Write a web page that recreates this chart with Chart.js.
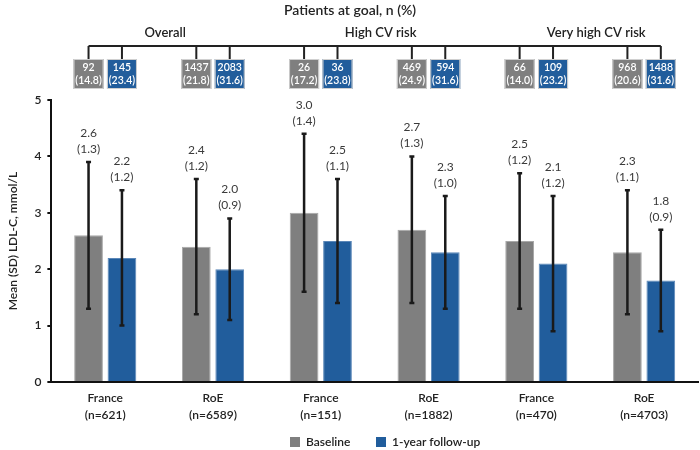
<!DOCTYPE html>
<html>
<head>
<meta charset="utf-8">
<script src="https://cdn.jsdelivr.net/npm/chart.js@4/dist/chart.umd.min.js"></script>
<style>
  html, body { margin: 0; padding: 0; background: #fff; }
</style>
</head>
<body>
<canvas id="chart" width="700" height="450"></canvas>
<script>
// ------------------------
// Data
// ------------------------
const categories = [
  ['France', '(n=621)'],
  ['RoE', '(n=6589)'],
  ['France', '(n=151)'],
  ['RoE', '(n=1882)'],
  ['France', '(n=470)'],
  ['RoE', '(n=4703)'],
]
const groups = ['Overall', 'High CV risk', 'Very high CV risk']

const baselineMean = [2.6, 2.4, 3.0, 2.7, 2.5, 2.3]
const baselineSD = [1.3, 1.2, 1.4, 1.3, 1.2, 1.1]
const followUpMean = [2.2, 2.0, 2.5, 2.3, 2.1, 1.8]
const followUpSD = [1.2, 0.9, 1.1, 1.0, 1.2, 0.9]

const goalBaselineN = [92, 1437, 26, 469, 66, 968]
const goalBaselinePct = ['14.8', '21.8', '17.2', '24.9', '14.0', '20.6']
const goalFollowUpN = [145, 2083, 36, 594, 109, 1488]
const goalFollowUpPct = ['23.4', '31.6', '23.8', '31.6', '23.2', '31.6']

const yTicks = [0, 1, 2, 3, 4, 5]

const GREY = '#7f7f7f'
const BLUE = '#215d9c'
const FONT = 'Lato, "Open Sans", sans-serif'

const sds = [baselineSD, followUpSD]
const goals = [
  [goalBaselineN, goalBaselinePct],
  [goalFollowUpN, goalFollowUpPct],
]

// ------------------------
// Plugins
// ------------------------
const errorBars = {
  id: 'errorBars',
  afterDatasetsDraw(chart) {
    const { ctx } = chart
    const y = chart.scales.y
    chart.data.datasets.forEach((ds, i) => {
      chart.getDatasetMeta(i).data.forEach((bar, j) => {
        const mean = ds.data[j]
        const sd = sds[i][j]
        const top = y.getPixelForValue(mean + sd)
        const bot = y.getPixelForValue(mean - sd)
        ctx.save()
        ctx.strokeStyle = '#1a1a1a'
        ctx.lineWidth = 2.5
        ctx.beginPath()
        ctx.moveTo(bar.x, top)
        ctx.lineTo(bar.x, bot)
        ctx.moveTo(bar.x - 2.5, top)
        ctx.lineTo(bar.x + 2.5, top)
        ctx.moveTo(bar.x - 2.5, bot)
        ctx.lineTo(bar.x + 2.5, bot)
        ctx.stroke()
        ctx.fillStyle = '#3a3a3a'
        ctx.font = `12px ${FONT}`
        ctx.textAlign = 'center'
        ctx.textBaseline = 'middle'
        ctx.fillText(mean.toFixed(1), bar.x, top - 29)
        ctx.fillText(`(${sd.toFixed(1)})`, bar.x, top - 13)
        ctx.restore()
      })
    })
  },
}

const goalBoxes = {
  id: 'goalBoxes',
  afterDraw(chart) {
    const { ctx } = chart
    const metas = [chart.getDatasetMeta(0), chart.getDatasetMeta(1)]
    const xs = []
    categories.forEach((_c, j) => {
      xs.push(metas[0].data[j].x, metas[1].data[j].x)
    })
    const lineY = 46
    const boxTop = 59
    const boxH = 30
    const boxW = 30

    ctx.save()
    ctx.fillStyle = '#222'
    ctx.textAlign = 'center'
    ctx.textBaseline = 'middle'
    ctx.font = `600 14px ${FONT}`
    ctx.fillText('Patients at goal, n (%)', chart.width / 2, 10)

    ctx.font = `600 13px ${FONT}`
    groups.forEach((g, k) => {
      const cx = (xs[k * 4] + xs[k * 4 + 3]) / 2 + 6
      ctx.fillText(g, cx, 33)
    })

    ctx.strokeStyle = '#222'
    ctx.lineWidth = 2
    ctx.beginPath()
    ctx.moveTo(xs[0], lineY)
    ctx.lineTo(xs[xs.length - 1], lineY)
    xs.forEach((x) => {
      ctx.moveTo(x, lineY)
      ctx.lineTo(x, boxTop)
    })
    ctx.stroke()

    categories.forEach((_c, j) => {
      metas.forEach((meta, i) => {
        const x = meta.data[j].x
        ctx.fillStyle = i === 0 ? GREY : BLUE
        ctx.fillRect(x - boxW / 2, boxTop, boxW, boxH)
        ctx.strokeStyle = '#d0d0d0'
        ctx.lineWidth = 1
        ctx.strokeRect(x - boxW / 2 + 0.5, boxTop + 0.5, boxW - 1, boxH - 1)
        ctx.fillStyle = '#fff'
        ctx.font = `600 10.5px ${FONT}`
        ctx.fillText(String(goals[i][0][j]), x, boxTop + 9)
        ctx.fillText(`(${goals[i][1][j]})`, x, boxTop + 22)
      })
    })

    // legend
    const legendY = 442
    const items = chart.data.datasets.map((ds) => ({
      text: ds.label,
      color: ds.backgroundColor,
    }))
    const xStart = [290, 376]
    ctx.font = `600 12px ${FONT}`
    ctx.textAlign = 'left'
    items.forEach((it, k) => {
      ctx.fillStyle = it.color
      ctx.fillRect(xStart[k], legendY - 5, 10, 10)
      ctx.fillStyle = '#222'
      ctx.fillText(it.text, xStart[k] + 16, legendY)
    })
    ctx.restore()
  },
}

// ------------------------
// Chart
// ------------------------
new Chart(document.querySelector('#chart'), {
  type: 'bar',

  data: {
    labels: categories,
    datasets: [
      {
        label: 'Baseline',
        data: baselineMean,
        backgroundColor: GREY,
        borderColor: '#a8a8a8',
        borderWidth: 1,
      },
      {
        label: '1-year follow-up',
        data: followUpMean,
        backgroundColor: BLUE,
        borderColor: '#5b87b8',
        borderWidth: 1,
      },
    ],
  },

  options: {
    responsive: false,
    animation: false,
    categoryPercentage: 0.62,
    barPercentage: 0.86,

    layout: {
      padding: { top: 100, right: 2, left: 2, bottom: 23 },
    },

    scales: {
      x: {
        afterFit: (axis) => {
          axis.height = 45
        },
        grid: { display: false },
        border: { color: '#111', width: 2 },
        ticks: {
          color: '#222',
          padding: 0,
          font: { family: FONT, size: 12, weight: '600', lineHeight: 1.4 },
        },
      },
      y: {
        min: 0,
        max: 5,
        afterBuildTicks: (axis) => {
          axis.ticks = yTicks.map((value) => ({ value }))
        },
        grid: {
          drawOnChartArea: false,
          drawTicks: true,
          tickLength: 4,
          color: '#111',
          lineWidth: 2,
        },
        border: { color: '#111', width: 2 },
        ticks: {
          color: '#222',
          padding: 6,
          font: { family: FONT, size: 12, weight: '600' },
        },
        title: {
          display: true,
          text: 'Mean (SD) LDL-C, mmol/L',
          color: '#222',
          padding: { bottom: 8 },
          font: { family: FONT, size: 12, weight: '600' },
        },
      },
    },

    plugins: {
      tooltip: { enabled: false },
      legend: { display: false },
    },
  },

  plugins: [errorBars, goalBoxes],
})
</script>
</body>
</html>
